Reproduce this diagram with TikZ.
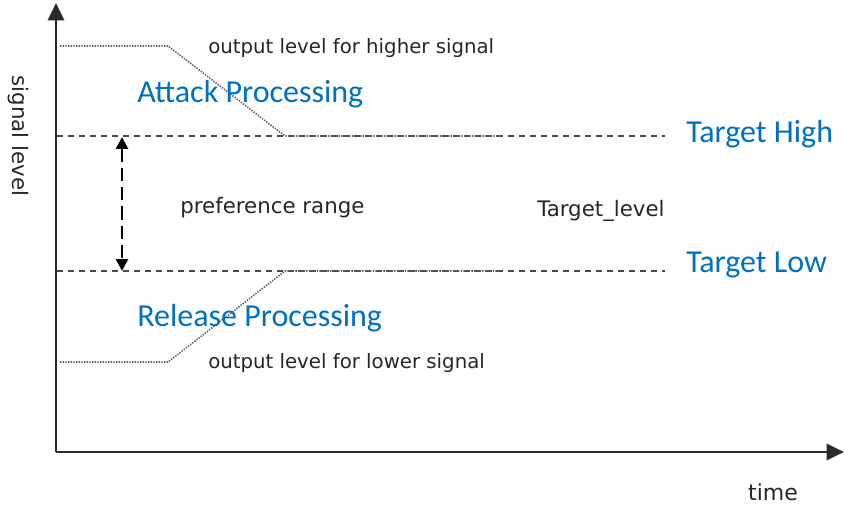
\documentclass[tikz,border=0pt]{standalone}
\usepackage{fontspec}
\setmainfont{DejaVu Sans}
\newfontfamily\blueface{Carlito}
\usetikzlibrary{arrows.meta}
\definecolor{bluetxt}{HTML}{0070C0}
\definecolor{axisgray}{HTML}{2A2A2A}
\definecolor{dashgray}{HTML}{4A4A4A}
\definecolor{dotgray}{HTML}{5A5A5A}
\begin{document}
\begin{tikzpicture}[x=0.75pt,y=-0.75pt,
  axis/.style={line width=2.2pt,draw=axisgray,-{Triangle[length=13pt,width=12pt]}},
  levelline/.style={dashgray,line width=1.4pt,dash pattern=on 4.5pt off 3.75pt},
  outline/.style={dotgray,line width=1.2pt,dash pattern=on 1pt off 1pt},
  rangearrow/.style={line width=2pt,black,dash pattern=on 10pt off 4.5pt,
     {Triangle[length=9pt,width=9pt]}-{Triangle[length=9pt,width=9pt]}},
  lbl/.style={inner sep=0pt,text=black!85,font=\fontsize{14.8}{17}\selectfont},
  biglbl/.style={lbl,font=\fontsize{16}{19}\selectfont},
  bluelbl/.style={inner sep=0pt,text=bluetxt,font=\blueface\fontsize{24}{28}\selectfont}]
\useasboundingbox (0,0) rectangle (851,510);
% axes
\coordinate (origin) at (56,452);
\coordinate (ytop) at (56,3);
\coordinate (xend) at (844,452);
\draw[axis] (origin) -- (ytop);
\draw[axis] (origin) -- (xend);
% level lines
\coordinate (hiL) at (57,136);
\coordinate (hiR) at (665,136);
\coordinate (loL) at (57,271);
\coordinate (loR) at (665,271);
\draw[levelline] (hiL) -- (hiR);
\draw[levelline] (loL) -- (loR);
% output level curves
\coordinate (h1) at (60,46);
\coordinate (h2) at (168,46);
\coordinate (h3) at (285,136);
\coordinate (h4) at (500,136);
\coordinate (l1) at (60,362);
\coordinate (l2) at (168,362);
\coordinate (l3) at (285,271);
\coordinate (l4) at (500,271);
\draw[outline] (h1) -- (h2) -- (h3) -- (h4);
\draw[outline] (l1) -- (l2) -- (l3) -- (l4);
% preference range arrow
\coordinate (ra) at (122,137);
\coordinate (rb) at (122,271);
\draw[rangearrow] (ra) -- (rb);
% labels
\node[lbl,anchor=west] (outhi) at (208,48) {output level for higher signal};
\node[lbl,anchor=west] (outlo) at (208,363) {output level for lower signal};
\node[biglbl,anchor=west] (pref) at (180,208) {preference range};
\node[biglbl,anchor=west] (tlev) at (537,211) {Target\_level};
\node[lbl,anchor=center,font=\fontsize{16.5}{19}\selectfont] (time) at (773,492) {time};
\node[lbl,anchor=center,rotate=-90,font=\fontsize{16}{19}\selectfont] (sig) at (18,136) {signal level};
\node[bluelbl,anchor=west] (attack) at (137,94) {Attack Processing};
\node[bluelbl,anchor=west] (release) at (137,318) {Release Processing};
\node[bluelbl,anchor=west] (thigh) at (686,134) {Target High};
\node[bluelbl,anchor=west] (tlow) at (686,265) {Target Low};
\end{tikzpicture}
\end{document}
